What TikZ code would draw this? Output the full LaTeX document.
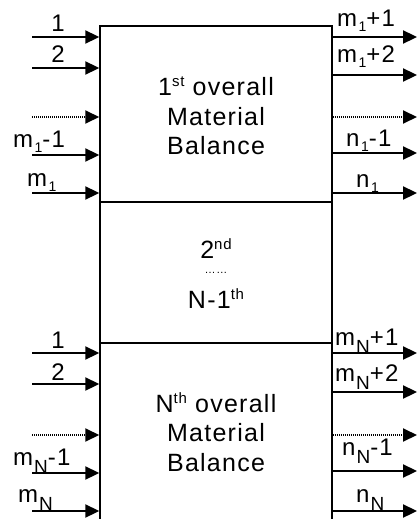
\documentclass[tikz,border=0pt]{standalone}
\usepackage{fontspec}
\setmainfont{Liberation Sans}[LetterSpace=5]
\usetikzlibrary{arrows.meta}
\newcommand{\subone}{\hspace{1.5pt}\raisebox{-5pt}{\fontsize{14}{14}\selectfont 1}}
\newcommand{\subN}{\hspace{1pt}\raisebox{-8pt}{\fontsize{19}{19}\selectfont N}}
\newcommand{\supx}[1]{\raisebox{8.5pt}{\fontsize{15}{15}\selectfont #1}}
\begin{document}
\begin{tikzpicture}[x=1pt,y=-1pt,
  box/.style={draw, line width=1.5pt, minimum width=232pt, inner sep=0pt},
  arr/.style={line width=2.3pt, -{Triangle[length=14pt,width=13pt]}},
  darr/.style={arr, dash pattern=on 1.1pt off 0.9pt, line width=2pt},
  txt/.style={anchor=base, inner sep=0pt, font=\fontsize{25}{25}\selectfont},
  labw/.style={anchor=base west, inner sep=0pt, font=\fontsize{24}{24}\selectfont},
  labc/.style={anchor=base, inner sep=0pt, font=\fontsize{24}{24}\selectfont},
]
\useasboundingbox (0,0) rectangle (417,519);
\clip (0,0) rectangle (417,519);
% boxes
\node[box, minimum height=176pt] (b1) at (216,114) {};
\node[box, minimum height=141pt] (b2) at (216,272.5) {};
\node[box, minimum height=190pt] (b3) at (216,438) {};
% texts in boxes
\node[txt] (t11) at (216,95) {1\supx{st} overall};
\node[txt] (t12) at (216,125) {Material};
\node[txt] (t13) at (216,154) {Balance};
\node[txt] (t21) at (216,258) {2\supx{nd}};
\node[txt, font=\fontsize{11}{11}\selectfont] (t22) at (216,273) {……};
\node[txt] (t23) at (216,308) {N-1\supx{th}};
\node[txt] (t31) at (216,412) {N\supx{th} overall};
\node[txt] (t32) at (216,441) {Material};
\node[txt] (t33) at (216,471) {Balance};
% left arrows, top
\coordinate (la1) at (32,37);
\coordinate (la2) at (32,68);
\coordinate (la3) at (32,117);
\coordinate (la4) at (32,155);
\coordinate (la5) at (32,193);
\draw[arr] (la1) -- (la1 -| b1.west);
\draw[arr] (la2) -- (la2 -| b1.west);
\draw[darr] (la3) -- (la3 -| b1.west);
\draw[arr] (la4) -- (la4 -| b1.west);
\draw[arr] (la5) -- (la5 -| b1.west);
% right arrows, top
\coordinate (ra1) at (417,37);
\coordinate (ra2) at (417,75);
\coordinate (ra3) at (417,117);
\coordinate (ra4) at (417,153);
\coordinate (ra5) at (417,193);
\draw[arr] (ra1 -| b1.east) -- (ra1);
\draw[arr] (ra2 -| b1.east) -- (ra2);
\draw[darr] (ra3 -| b1.east) -- (ra3);
\draw[arr] (ra4 -| b1.east) -- (ra4);
\draw[arr] (ra5 -| b1.east) -- (ra5);
% left arrows, bottom
\coordinate (lb1) at (32,353);
\coordinate (lb2) at (32,384);
\coordinate (lb3) at (32,435);
\coordinate (lb4) at (32,473);
\coordinate (lb5) at (32,511);
\draw[arr] (lb1) -- (lb1 -| b3.west);
\draw[arr] (lb2) -- (lb2 -| b3.west);
\draw[darr] (lb3) -- (lb3 -| b3.west);
\draw[arr] (lb4) -- (lb4 -| b3.west);
\draw[arr] (lb5) -- (lb5 -| b3.west);
% right arrows, bottom
\coordinate (rb1) at (417,353);
\coordinate (rb2) at (417,392);
\coordinate (rb3) at (417,435);
\coordinate (rb4) at (417,471);
\coordinate (rb5) at (417,511);
\draw[arr] (rb1 -| b3.east) -- (rb1);
\draw[arr] (rb2 -| b3.east) -- (rb2);
\draw[darr] (rb3 -| b3.east) -- (rb3);
\draw[arr] (rb4 -| b3.east) -- (rb4);
\draw[arr] (rb5 -| b3.east) -- (rb5);
% labels top left
\node[labc] (tl1) at (58,32) {1};
\node[labc] (tl2) at (58,63) {2};
\node[labw] (tl4) at (13,147) {m\subone-1};
\node[labw] (tl5) at (27,186) {m\subone};
% labels top right
\node[labw] (tr1) at (337,27) {m\subone+1};
\node[labw] (tr2) at (337,63) {m\subone+2};
\node[labw] (tr4) at (346,146) {n\subone-1};
\node[labw] (tr5) at (356,187) {n\subone};
% labels bottom left
\node[labc] (bl1) at (58,348) {1};
\node[labc] (bl2) at (58,380) {2};
\node[labw] (bl4) at (13,465) {m\subN-1};
\node[labw] (bl5) at (18,502) {m\subN};
% labels bottom right
\node[labw] (br1) at (335,345) {m\subN+1};
\node[labw] (br2) at (335,381) {m\subN+2};
\node[labw] (br4) at (342,455) {n\subN-1};
\node[labw] (br5) at (356,502) {n\subN};
\end{tikzpicture}
\end{document}
